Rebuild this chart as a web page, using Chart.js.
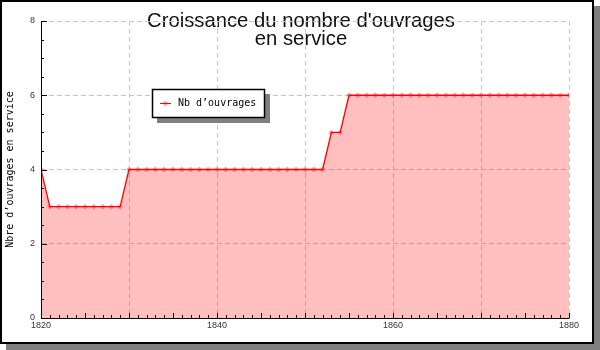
<!DOCTYPE html>
<html><head><meta charset="utf-8">
<script src="https://cdn.jsdelivr.net/npm/chart.js@4.4.1/dist/chart.umd.min.js"></script>
<style>html,body{margin:0;padding:0;background:#fff}#wrap{width:600px;height:350px;position:relative}canvas{display:block}</style>
</head><body><div id="wrap"><canvas id="c" width="600" height="350"></canvas></div>
<script>
const titleLines = ["Croissance du nombre d'ouvrages", "en service"];
const yAxisTitle = "Nbre d’ouvrages en service";
const seriesLabel = "Nb d’ouvrages";
const years = [1820,1821,1822,1823,1824,1825,1826,1827,1828,1829,
  1830,1831,1832,1833,1834,1835,1836,1837,1838,1839,
  1840,1841,1842,1843,1844,1845,1846,1847,1848,1849,
  1850,1851,1852,1853,1854,1855,1856,1857,1858,1859,
  1860,1861,1862,1863,1864,1865,1866,1867,1868,1869,
  1870,1871,1872,1873,1874,1875,1876,1877,1878,1879,1880];
const ouvrages = [4,3,3,3,3,3,3,3,3,3,
  4,4,4,4,4,4,4,4,4,4,
  4,4,4,4,4,4,4,4,4,4,
  4,4,4,5,5,6,6,6,6,6,
  6,6,6,6,6,6,6,6,6,6,
  6,6,6,6,6,6,6,6,6,6,6];
const xTickLabels = [1820, 1840, 1860, 1880];
const xGridValues = [1820, 1830, 1840, 1850, 1860, 1870, 1880];
const yTickValues = [0, 2, 4, 6, 8];

const points = years.map((y, i) => ({x: y, y: ouvrages[i]}));
const markerColor = 'rgba(255,110,110,0.6)';

const decor = {
  id: 'decor',
  beforeDraw(chart) {
    const ctx = chart.ctx;
    ctx.save();
    ctx.fillStyle = '#fff';
    ctx.fillRect(0, 0, 600, 350);
    ctx.fillStyle = '#808080';
    ctx.fillRect(6, 6, 594, 344);
    ctx.fillStyle = '#fff';
    ctx.fillRect(0, 0, 594, 344);
    ctx.strokeStyle = '#000';
    ctx.lineWidth = 2;
    ctx.strokeRect(1, 1, 592, 342);
    // title
    ctx.fillStyle = '#111';
    ctx.font = '21px "Liberation Sans"';
    ctx.textAlign = 'center';
    ctx.textBaseline = 'alphabetic';
    const w = ctx.measureText(titleLines[0]).width;
    const sx = 308 / w;
    ctx.translate(301, 0);
    ctx.scale(sx, 1);
    ctx.fillText(titleLines[0], 0, 27);
    ctx.fillText(titleLines[1], 0, 45);
    ctx.restore();
  },
  afterDatasetsDraw(chart) {
    const ctx = chart.ctx;
    const xs = chart.scales.x, ys = chart.scales.y;
    const a = chart.chartArea;
    ctx.save();
    ctx.strokeStyle = '#000';
    ctx.lineWidth = 1;
    ctx.beginPath();
    ctx.moveTo(a.left + 0.5, a.top);
    ctx.lineTo(a.left + 0.5, a.bottom + 0.5);
    ctx.lineTo(a.right + 0.5, a.bottom + 0.5);
    for (let v = xs.min; v <= xs.max; v += 1) {
      const px = Math.round(xs.getPixelForValue(v)) + 0.5;
      const len = (v % 5 === 0) ? 5 : 3;
      ctx.moveTo(px, a.bottom);
      ctx.lineTo(px, a.bottom - len);
    }
    for (let v = ys.min; v <= ys.max; v += 0.5) {
      const py = Math.round(ys.getPixelForValue(v)) + 0.5;
      const len = (v % 2 === 0) ? 6 : 3;
      ctx.moveTo(a.left, py);
      ctx.lineTo(a.left + len, py);
    }
    ctx.stroke();
    ctx.restore();
  },
  afterDraw(chart) {
    const ctx = chart.ctx;
    const ds = chart.data.datasets[0];
    ctx.save();
    ctx.fillStyle = '#808080';
    ctx.fillRect(157, 94, 113, 29);
    ctx.fillStyle = '#fff';
    ctx.fillRect(152, 89, 113, 29);
    ctx.strokeStyle = '#000';
    ctx.lineWidth = 1.5;
    ctx.strokeRect(152.5, 89.5, 112, 28);
    ctx.fillStyle = markerColor;
    ctx.beginPath();
    ctx.moveTo(165.5, 100.5); ctx.lineTo(168.5, 103.5); ctx.lineTo(165.5, 106.5); ctx.lineTo(162.5, 103.5);
    ctx.closePath(); ctx.fill();
    ctx.strokeStyle = ds.borderColor;
    ctx.lineWidth = 1;
    ctx.beginPath();
    ctx.moveTo(160, 103.5);
    ctx.lineTo(171, 103.5);
    ctx.stroke();
    ctx.fillStyle = '#000';
    ctx.font = '10px "DejaVu Sans Mono"';
    ctx.textAlign = 'left';
    ctx.textBaseline = 'middle';
    ctx.fillText(ds.label, 178, 103.5);
    ctx.restore();
  }
};

new Chart(document.getElementById('c'), {
  type: 'line',
  data: {
    datasets: [{
      label: seriesLabel,
      data: points,
      order: 0,
      borderColor: '#ff0000',
      borderWidth: 1.3,
      backgroundColor: 'rgba(255,0,0,0.25)',
      fill: 'origin',
      tension: 0,
      pointRadius: 0
    }, {
      label: seriesLabel + ' (points)',
      data: points,
      order: 1,
      showLine: false,
      fill: false,
      pointStyle: 'rectRot',
      pointRadius: 3,
      pointBorderWidth: 0,
      pointBackgroundColor: markerColor,
      pointBorderColor: 'rgba(0,0,0,0)'
    }]
  },
  options: {
    responsive: false,
    animation: false,
    events: [],
    layout: {padding: {top: 21, right: 31, left: 0, bottom: 0}},
    plugins: {legend: {display: false}, title: {display: false}, tooltip: {enabled: false}},
    scales: {
      x: {
        type: 'linear', min: 1820, max: 1880,
        afterBuildTicks: s => { s.ticks = xGridValues.map(v => ({value: v})); },
        afterFit: s => { s.height = 32; },
        ticks: {
          autoSkip: false, maxRotation: 0, padding: 2,
          color: '#333', font: {family: '"Liberation Sans"', size: 9},
          callback: v => xTickLabels.includes(v) ? String(v) : ''
        },
        grid: {color: '#c8c8c8', lineWidth: 1, drawTicks: false},
        border: {display: false, dash: [5, 3]}
      },
      y: {
        min: 0, max: 8,
        afterBuildTicks: s => { s.ticks = yTickValues.map(v => ({value: v})); },
        afterFit: s => { s.width = 41; },
        ticks: {padding: 6, color: '#333', font: {family: '"Liberation Sans"', size: 9}},
        grid: {color: '#c8c8c8', lineWidth: 1, drawTicks: false},
        border: {display: false, dash: [5, 3]},
        title: {display: true, text: yAxisTitle, color: '#000',
          font: {family: '"DejaVu Sans Mono"', size: 10}, padding: {top: 4, bottom: 0}}
      }
    }
  },
  plugins: [decor]
});
</script></body></html>
